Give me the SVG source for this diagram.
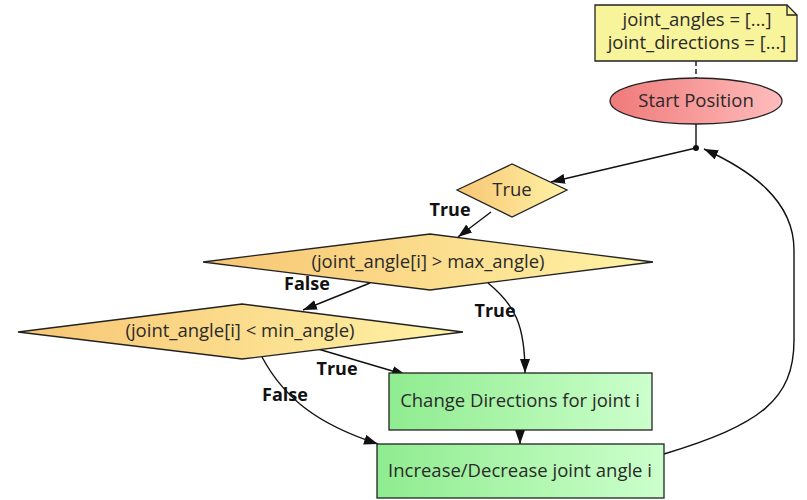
<svg xmlns="http://www.w3.org/2000/svg" width="807" height="500" viewBox="0 0 807 500">
<style>
text{font-family:"Open Sans","Noto Sans","Liberation Sans",sans-serif;fill:#2a2a2a}
.t{font-size:18.5px;text-anchor:middle}
.lbl{font-size:18px;font-weight:bold;fill:#111;text-anchor:middle}
.shape{stroke:#222;stroke-width:1.3}
.c{fill:none;stroke:#111;stroke-width:1.4}
</style>
<defs>
<linearGradient id="gDia" x1="0" y1="0" x2="1" y2="0"><stop offset="0" stop-color="#f7c573"/><stop offset="1" stop-color="#fff3a6"/></linearGradient>
<linearGradient id="gRed" x1="0" y1="0" x2="1" y2="0"><stop offset="0" stop-color="#f07a7a"/><stop offset="1" stop-color="#ffbcbc"/></linearGradient>
<linearGradient id="gGreen" x1="0" y1="0" x2="1" y2="0"><stop offset="0" stop-color="#8fec8f"/><stop offset="1" stop-color="#ccffcc"/></linearGradient>
<marker id="arr" viewBox="0 0 14 10" refX="14" refY="5" markerWidth="14" markerHeight="10" markerUnits="userSpaceOnUse" orient="auto"><path d="M0,0 L14,5 L0,10 z" fill="#111"/></marker>
</defs>

<g id="connectors">
<path class="c" d="M696,61 L696,78" stroke-dasharray="5,3"/>
<path class="c" d="M696,124 L696,148"/>
<circle cx="696" cy="148" r="3" fill="#111"/>
<path class="c" d="M696,148 L551,182" marker-end="url(#arr)"/>
<path class="c" d="M491,212 L458,237" marker-end="url(#arr)"/>
<path class="c" d="M370,283 L303,310" marker-end="url(#arr)"/>
<path class="c" d="M488,283 C515,305 525,325 525,373" marker-end="url(#arr)"/>
<path class="c" d="M318,349 L406,375" marker-end="url(#arr)"/>
<path class="c" d="M262,357 C285,400 320,425 378,444" marker-end="url(#arr)"/>
<path class="c" d="M520,430 L520,444" marker-end="url(#arr)"/>
<path class="c" d="M664,454 C760,425 794,400 794,340 L794,250 C794,200 750,170 704,149" marker-end="url(#arr)"/>
</g>

<g id="note">
<path class="shape" d="M595,5 L787,5 L797,15 L797,61 L595,61 z" fill="#f8f49c"/>
<path class="shape" d="M787,5 L787,15 L797,15" fill="none"/>
<text class="t" x="697" y="26">joint_angles = [...]</text>
<text class="t" x="697" y="49">joint_directions = [...]</text>
</g>

<g id="start">
<ellipse class="shape" cx="696" cy="101" rx="86" ry="23" fill="url(#gRed)"/>
<text class="t" x="696" y="107">Start Position</text>
</g>

<g id="loop">
<polygon class="shape" points="457,190 512,164 567,190 512,217" fill="url(#gDia)"/>
<text class="t" x="512" y="196">True</text>
</g>

<g id="maxcheck">
<polygon class="shape" points="203,262 430,234 653,262 430,290" fill="url(#gDia)"/>
<text class="t" x="428" y="268">(joint_angle[i] &gt; max_angle)</text>
</g>

<g id="mincheck">
<polygon class="shape" points="18,332 242,304 463,332 242,359" fill="url(#gDia)"/>
<text class="t" x="240" y="337">(joint_angle[i] &lt; min_angle)</text>
</g>

<g id="change">
<rect class="shape" x="389" y="373" width="263" height="57" fill="url(#gGreen)"/>
<text class="t" x="520" y="407">Change Directions for joint i</text>
</g>

<g id="increase">
<rect class="shape" x="377" y="444" width="287" height="54" fill="url(#gGreen)"/>
<text class="t" x="520" y="477">Increase/Decrease joint angle i</text>
</g>

<g id="labels">
<text class="lbl" x="450" y="216">True</text>
<text class="lbl" x="307" y="290">False</text>
<text class="lbl" x="495" y="317">True</text>
<text class="lbl" x="337" y="375">True</text>
<text class="lbl" x="285" y="401">False</text>
</g>
</svg>
